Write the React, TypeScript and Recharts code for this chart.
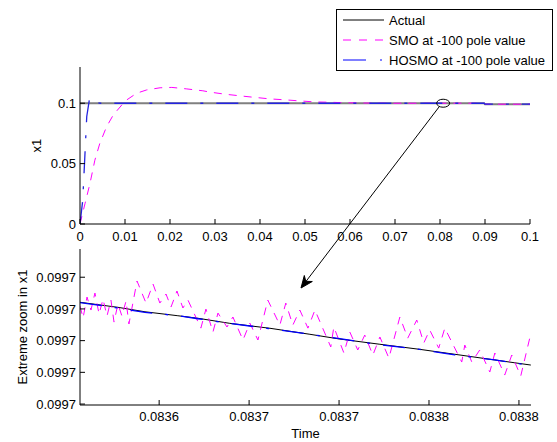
import { LineChart, Line, XAxis, YAxis, Legend, ReferenceDot } from 'recharts';

// top panel: full response
const topTicksX = [0, 0.01, 0.02, 0.03, 0.04, 0.05, 0.06, 0.07, 0.08, 0.09, 0.1];
const topTicksY = [0, 0.05, 0.1];
const topActualT = [0, 0.0898, 0.09, 0.1];
const topActualV = [0.1, 0.1, 0.0992, 0.0992];
const topSmoT = [0, 0.0011, 0.0022, 0.0033, 0.0044, 0.0059, 0.0074, 0.0093, 0.0104, 0.0126, 0.0148, 0.0178, 0.0204, 0.0236, 0.0273, 0.0289, 0.0322, 0.0356, 0.0384, 0.0422, 0.0456, 0.0489, 0.0522, 0.0556, 0.0589, 0.065, 0.07, 0.0898, 0.09, 0.1];
const topSmoV = [0, 0.0167, 0.0333, 0.0528, 0.0667, 0.0805, 0.0903, 0.0986, 0.1028, 0.1083, 0.111, 0.1128, 0.1131, 0.1119, 0.1103, 0.1092, 0.1075, 0.1061, 0.105, 0.1036, 0.1028, 0.1019, 0.1011, 0.1008, 0.1004, 0.1001, 0.1, 0.1, 0.0992, 0.0992];
const topHosmoT = [0, 0.0006, 0.001, 0.0015, 0.0021, 0.0026, 0.0032, 0.0037, 0.0045, 0.0898, 0.09, 0.1];
const topHosmoV = [0, 0.0194, 0.05, 0.089, 0.1033, 0.1047, 0.1033, 0.1005, 0.1, 0.1, 0.0992, 0.0992];

// bottom panel: extreme zoom
const botTicksX = [0.08362, 0.08367, 0.08372, 0.08377, 0.08382];
const botTicksY = [0.0997, 0.099702, 0.099704, 0.099706, 0.099708];
const botActualT = [0.083576, 0.0835971, 0.0836121, 0.0836304, 0.0836416, 0.0836593, 0.0836816, 0.0837038, 0.0837204, 0.0837427, 0.0837649, 0.0837843, 0.0838066, 0.0838266];
const botActualV = [0.09970642, 0.0997061, 0.09970582, 0.09970557, 0.09970541, 0.09970509, 0.09970478, 0.0997044, 0.0997041, 0.09970377, 0.09970345, 0.09970314, 0.09970278, 0.09970246];
const botHosmoV = [0.0997064, 0.09970606, 0.09970578, 0.09970557, 0.09970538, 0.09970509, 0.09970475, 0.0997044, 0.09970412, 0.09970374, 0.09970345, 0.0997031, 0.09970278, 0.09970243];
const botSmoT = [0.083576, 0.0835777, 0.0835799, 0.0835821, 0.0835843, 0.0835866, 0.0835888, 0.083591, 0.0835932, 0.0835949, 0.0835971, 0.0835993, 0.0836016, 0.0836032,
  0.0836077, 0.0836127, 0.0836166, 0.0836204, 0.0836238, 0.0836266, 0.0836299, 0.0836332, 0.083636,
  0.0836432, 0.083646, 0.0836499, 0.0836527, 0.0836577, 0.083661, 0.0836666, 0.0836704, 0.0836749,
  0.0836804, 0.0836871, 0.0836904, 0.0836943, 0.0836982, 0.0837027, 0.0837066,
  0.0837154, 0.0837171, 0.0837227, 0.083726, 0.0837304, 0.0837343, 0.0837388, 0.0837427, 0.0837477,
  0.0837538, 0.0837582, 0.0837632, 0.0837671, 0.0837704, 0.0837754, 0.0837788,
  0.0837882, 0.0837899, 0.0837938, 0.0837982, 0.0838038, 0.0838066, 0.0838121, 0.083816, 0.083821, 0.083826];
const botSmoV = [0.09970618, 0.09970543, 0.09970675, 0.09970593, 0.099707, 0.09970568, 0.09970662, 0.09970555, 0.09970656, 0.09970517, 0.09970631, 0.09970555, 0.0997065, 0.09970505,
  0.09970776, 0.09970637, 0.09970757, 0.09970637, 0.09970694, 0.09970612, 0.09970713, 0.09970606, 0.09970656,
  0.09970479, 0.09970599, 0.09970454, 0.09970574, 0.09970486, 0.09970549, 0.09970404, 0.09970511, 0.09970404,
  0.09970656, 0.09970498, 0.09970637, 0.09970498, 0.09970593, 0.09970479, 0.09970593,
  0.0997036, 0.09970486, 0.09970322, 0.09970454, 0.09970341, 0.09970435, 0.09970309, 0.09970423, 0.0997029,
  0.09970549, 0.09970416, 0.0997053, 0.09970385, 0.09970467, 0.09970353, 0.09970479,
  0.09970265, 0.09970372, 0.09970265, 0.09970341, 0.09970202, 0.09970322, 0.09970183, 0.09970309, 0.09970177, 0.09970416];

const zip = (t: number[], v: number[]) => t.map((x, i) => ({ x, y: v[i] }));

const SMO_COLOR = '#ff00ff';
const HOSMO_COLOR = '#0000ff';
const SMO_DASH = '8 7';
const HOSMO_DASH = '22 13 3 13';

const legendItems = [
  { name: 'Actual', color: '#000', dash: undefined as string | undefined },
  { name: 'SMO at -100 pole value', color: SMO_COLOR, dash: '8 8' },
  { name: 'HOSMO at -100 pole value', color: HOSMO_COLOR, dash: '23 14 2 14' },
];

const font = { fill: '#000', fontSize: 13 };

function LegendBox() {
  return (
    <div style={{ width: 217, height: 62, boxSizing: 'border-box', border: '1px solid #000', background: '#fff', fontSize: 13, color: '#000' }}>
      {legendItems.map(it => (
        <div key={it.name} style={{ height: 20, display: 'flex', alignItems: 'center' }}>
          <svg width={48} height={20} style={{ flex: 'none' }}>
            <line x1={6} x2={47} y1={10} y2={10} stroke={it.color} strokeWidth={1} strokeDasharray={it.dash} />
          </svg>
          <span style={{ marginLeft: 4, whiteSpace: 'nowrap' }}>{it.name}</span>
        </div>
      ))}
    </div>
  );
}

export default function App() {
  return (
    <div style={{ position: 'absolute', left: 0, top: 0, width: 557, height: 442, background: '#fff', fontFamily: '"Liberation Sans", Arial, sans-serif' }}>
      <div style={{ position: 'absolute', left: 0, top: 240 }}>
        <LineChart width={557} height={202} margin={{ top: 9, right: 26, bottom: 0, left: 0 }}>
          <XAxis dataKey="x" type="number" domain={[0.083576, 0.0838267]} ticks={botTicksX} tickFormatter={(v: number) => v.toFixed(4)} stroke="#000" tick={font} tickSize={-5} tickMargin={12} height={37} allowDataOverflow
            label={{ value: 'Time', position: 'insideBottom', offset: 4, style: { fill: '#000', fontSize: 13 } }} />
          <XAxis xAxisId="top" orientation="top" type="number" domain={[0.083576, 0.0838267]} ticks={botTicksX} stroke="#000" tick={false} tickSize={-5} height={0} />
          <YAxis type="number" domain={[0.09969994, 0.09970978]} ticks={botTicksY} tickFormatter={(v: number) => v.toFixed(4)} stroke="#000" tick={font} tickSize={-5} tickMargin={9} width={80} allowDataOverflow
            label={{ value: 'Extreme zoom in x1', angle: -90, position: 'insideLeft', offset: 22, style: { textAnchor: 'middle', fill: '#000', fontSize: 13 } }} />
          <YAxis yAxisId="r" orientation="right" type="number" domain={[0.09969994, 0.09970978]} ticks={botTicksY} stroke="#000" tick={false} tickSize={-5} width={0} />
          <Line data={zip(botActualT, botActualV)} dataKey="y" stroke="#000" strokeWidth={1} dot={false} isAnimationActive={false} />
          <Line data={zip(botSmoT, botSmoV)} dataKey="y" stroke={SMO_COLOR} strokeDasharray={SMO_DASH} dot={false} isAnimationActive={false} />
          <Line data={zip(botActualT, botHosmoV)} dataKey="y" stroke={HOSMO_COLOR} strokeWidth={1.3} strokeDasharray={HOSMO_DASH} dot={false} isAnimationActive={false} />
        </LineChart>
      </div>
      <div style={{ position: 'absolute', left: 0, top: 0 }}>
        <LineChart width={557} height={244} margin={{ top: 67, right: 27, bottom: 0, left: 0 }}>
          <XAxis dataKey="x" type="number" domain={[0, 0.1]} ticks={topTicksX} stroke="#000" tick={font} tickSize={-5} tickMargin={13} height={20} allowDataOverflow />
          <XAxis xAxisId="top" orientation="top" type="number" domain={[0, 0.1]} ticks={topTicksX} stroke="#000" tick={false} tickSize={-5} height={0} />
          <YAxis type="number" domain={[0, 0.13]} ticks={topTicksY} stroke="#000" tick={font} tickSize={-5} tickMargin={9} width={80} allowDataOverflow
            label={{ value: 'x1', angle: -90, position: 'insideLeft', offset: 36, style: { textAnchor: 'middle', fill: '#000', fontSize: 13 } }} />
          <YAxis yAxisId="r" orientation="right" type="number" domain={[0, 0.13]} ticks={topTicksY} stroke="#000" tick={false} tickSize={-5} width={0} />
          <Line data={zip(topActualT, topActualV)} dataKey="y" name="Actual" stroke="#808080" strokeWidth={2} dot={false} isAnimationActive={false} />
          <Line data={zip(topSmoT, topSmoV)} dataKey="y" name="SMO at -100 pole value" stroke={SMO_COLOR} strokeDasharray={SMO_DASH} dot={false} isAnimationActive={false} />
          <Line data={zip(topHosmoT, topHosmoV)} dataKey="y" name="HOSMO at -100 pole value" stroke="#2424e0" strokeWidth={1.3} strokeDasharray={HOSMO_DASH} dot={false} isAnimationActive={false} />
          <ReferenceDot x={0.0807} y={0.1} shape={(p: any) => <ellipse cx={p.cx} cy={p.cy} rx={6.5} ry={4} fill="none" stroke="#000" strokeWidth={1} />} />
          <Legend layout="horizontal" verticalAlign="middle" align="center" content={() => <LegendBox />} wrapperStyle={{ left: 336, top: 9, width: 217, height: 62 }} />
        </LineChart>
      </div>
      <svg width={557} height={442} style={{ position: 'absolute', left: 0, top: 0, pointerEvents: 'none' }}>
        <line x1={439} y1={107} x2={304} y2={284} stroke="#000" strokeWidth={1} />
        <path d="M301,288 L304.3,275.5 L305.8,281.3 L312.3,281.5 Z" fill="#000" stroke="#000" strokeWidth={1} strokeLinejoin="miter" />
      </svg>
    </div>
  );
}
